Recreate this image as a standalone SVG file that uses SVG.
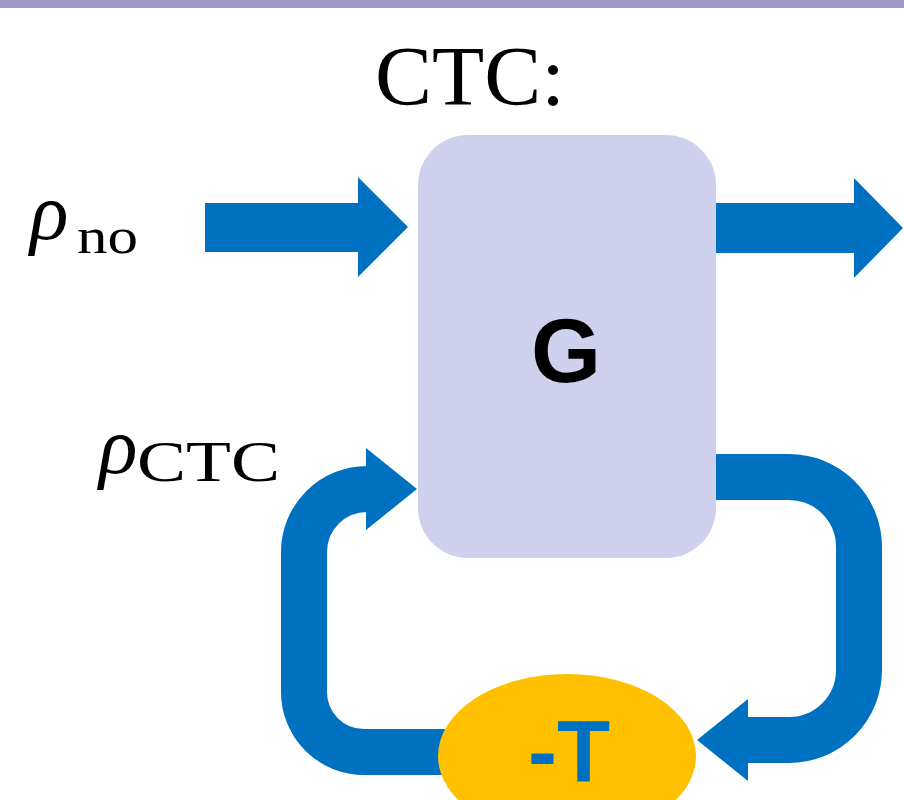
<svg xmlns="http://www.w3.org/2000/svg" width="904" height="800" viewBox="0 0 904 800">
<style>
.blue{fill:#0070C0}
.loop{fill:none;stroke:#0070C0;stroke-width:46;stroke-linecap:butt}
.serif{font-family:"Liberation Serif","DejaVu Serif",serif;fill:#000}
.sans{font-family:"Liberation Sans",Arial,sans-serif;font-weight:bold}
</style>
<rect x="0" y="0" width="904" height="8" fill="#9E97C9"/>
<text class="serif" x="375" y="105" font-size="84" textLength="190" lengthAdjust="spacingAndGlyphs">CTC:</text>
<g id="label-rho-no">
<text class="serif" x="30" y="239" font-size="80" font-style="italic">ρ</text>
<text class="serif" x="77" y="253" font-size="50" textLength="61" lengthAdjust="spacingAndGlyphs">no</text>
</g>
<g id="label-rho-ctc">
<text class="serif" x="99" y="473" font-size="80" font-style="italic">ρ</text>
<text class="serif" x="137" y="481" font-size="58" textLength="143" lengthAdjust="spacingAndGlyphs">CTC</text>
</g>
<g id="connectors">
<polygon class="blue" points="205,203 358,203 358,177 408,227 358,277 358,252 205,252"/>
<polygon class="blue" points="712,203 854,203 854,178 903,228 854,278 854,253 712,253"/>
<path class="loop" d="M 500 752 L 364 752 A 60 60 0 0 1 304 692 L 304 552 A 63 63 0 0 1 367 489 L 368 489"/>
<polygon class="blue" points="366,448 417,489 366,530"/>
<path class="loop" d="M 710 477 L 789 477 A 70 70 0 0 1 859 547 L 859 670 A 70 70 0 0 1 789 740 L 747 740"/>
<polygon class="blue" points="748,699 697,740 748,781"/>
</g>
<g id="node-G">
<rect x="418" y="135" width="298" height="423" rx="50" ry="50" fill="#CFCFEE"/>
<text class="sans" x="566" y="382" font-size="90" text-anchor="middle" fill="#000">G</text>
</g>
<g id="node-T">
<ellipse cx="567" cy="756" rx="129" ry="82" fill="#FFC000"/>
<text class="sans" x="569" y="781" font-size="87" text-anchor="middle" fill="#0070C0">-T</text>
</g>
</svg>
